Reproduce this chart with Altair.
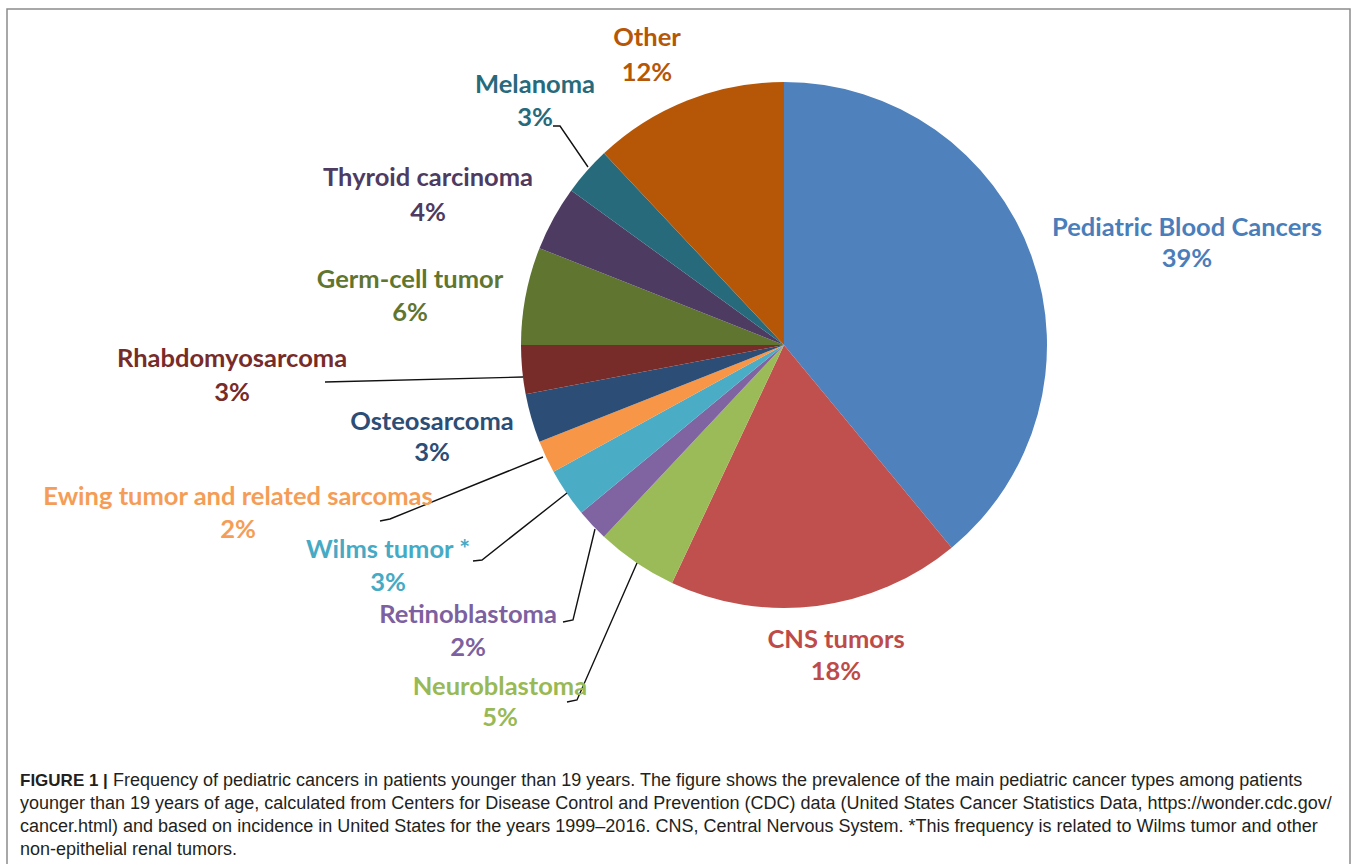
import altair as alt
import pandas as pd

# ---------------- data ----------------
categories = [
    "Pediatric Blood Cancers", "CNS tumors", "Neuroblastoma", "Retinoblastoma",
    "Wilms tumor *", "Ewing tumor and related sarcomas", "Osteosarcoma",
    "Rhabdomyosarcoma", "Germ-cell tumor", "Thyroid carcinoma", "Melanoma", "Other",
]
percent = [39, 18, 5, 2, 3, 2, 3, 3, 6, 4, 3, 12]

# ---------------- styles ----------------
slice_colors = [
    "#4F81BD", "#C0504D", "#9BBB59", "#8064A2", "#4BACC6", "#F79646",
    "#2C4D75", "#772C2A", "#5F7530", "#4D3B62", "#276A7C", "#B65708",
]
label_colors = [
    "#4A7EBB", "#BE4B48", "#98B954", "#7D60A0", "#46AAC5", "#F59D56",
    "#2C4D75", "#772C2A", "#5F7530", "#4D3B62", "#276A7C", "#B65708",
]

# ---------------- layout (pixel positions of labels) ----------------
label_x = [1187, 836, 500, 468, 388, 238, 432, 232, 410, 428, 535, 647]
name_y = [228, 640, 687, 615, 550, 497, 422, 359, 280, 178, 85, 38]
pct_y = [259, 672, 718, 648, 583, 530, 453, 393, 313, 213, 118, 73]

leader_points = {
    "Melanoma": [(553, 126), (560, 126), (588, 167)],
    "Rhabdomyosarcoma": [(325, 382), (523, 377)],
    "Ewing tumor and related sarcomas": [(380, 521), (390, 519), (543, 457)],
    "Wilms tumor *": [(473, 561), (482, 560), (567, 493)],
    "Retinoblastoma": [(563, 622), (573, 620), (595, 529)],
    "Neuroblastoma": [(567, 702), (577, 700), (637, 563)],
}

caption_bold = "FIGURE 1 |"
caption_lines = [
    "Frequency of pediatric cancers in patients younger than 19 years. The figure shows the prevalence of the main pediatric cancer types among patients",
    "younger than 19 years of age, calculated from Centers for Disease Control and Prevention (CDC) data (United States Cancer Statistics Data, https://wonder.cdc.gov/",
    "cancer.html) and based on incidence in United States for the years 1999\u20132016. CNS, Central Nervous System. *This frequency is related to Wilms tumor and other",
    "non-epithelial renal tumors.",
]
caption_x = [113, 20, 20, 20]
caption_y = [781, 804, 827, 850]

W, H = 1358, 864
CX, CY, R = 784, 345, 263
LABEL_FONT = "Lato"
LABEL_SIZE = 25.5

# ---------------- tables ----------------
pie_df = pd.DataFrame({
    "category": categories,
    "value": percent,
    "idx": list(range(len(categories))),
})

lab_df = pd.DataFrame({
    "category": categories,
    "pct": [f"{p}%" for p in percent],
    "x": label_x,
    "ny": name_y,
    "py": pct_y,
    "col": label_colors,
})

rows = []
for cat, pts in leader_points.items():
    for i, (px, py) in enumerate(pts):
        rows.append({"category": cat, "pt": i, "x": px, "y": py})
lead_df = pd.DataFrame(rows)

cap_df = pd.DataFrame({"text": caption_lines, "x": caption_x, "y": caption_y})
capb_df = pd.DataFrame({"text": [caption_bold], "x": [20], "y": [caption_y[0]]})

xs = alt.Scale(domain=[0, W], range=[0, W])
ys = alt.Scale(domain=[0, H], range=[0, H])

# ---------------- layers ----------------
border = alt.Chart(pd.DataFrame({"a": [0]})).mark_rect(
    fill=None, stroke="#8c8c8c", strokeWidth=1.5
).encode(
    x=alt.value(7), x2=alt.value(1350), y=alt.value(9), y2=alt.value(H + 20)
)

pie = alt.Chart(pie_df).mark_arc(radius=R, stroke=None).encode(
    theta=alt.Theta("value:Q", stack=True),
    order=alt.Order("idx:Q", sort="ascending"),
    color=alt.Color("category:N", scale=alt.Scale(domain=categories, range=slice_colors), legend=None),
    x=alt.value(CX),
    y=alt.value(CY),
)

leaders = alt.Chart(lead_df).mark_line(color="#111111", strokeWidth=1.4).encode(
    x=alt.X("x:Q", scale=xs, axis=None),
    y=alt.Y("y:Q", scale=ys, axis=None),
    detail="category:N",
    order="pt:Q",
)

names = alt.Chart(lab_df).mark_text(
    font=LABEL_FONT, fontSize=LABEL_SIZE, fontWeight="bold", align="center", baseline="middle"
).encode(
    x=alt.X("x:Q", scale=xs, axis=None),
    y=alt.Y("ny:Q", scale=ys, axis=None),
    text="category:N",
    color=alt.Color("col:N", scale=None),
)

pcts = alt.Chart(lab_df).mark_text(
    font=LABEL_FONT, fontSize=LABEL_SIZE, fontWeight="bold", align="center", baseline="middle"
).encode(
    x=alt.X("x:Q", scale=xs, axis=None),
    y=alt.Y("py:Q", scale=ys, axis=None),
    text="pct:N",
    color=alt.Color("col:N", scale=None),
)

cap = alt.Chart(cap_df).mark_text(
    font="Liberation Sans", fontSize=18, align="left", baseline="middle", color="#231f20"
).encode(
    x=alt.X("x:Q", scale=xs, axis=None),
    y=alt.Y("y:Q", scale=ys, axis=None),
    text="text:N",
)

capb = alt.Chart(capb_df).mark_text(
    font="Liberation Sans", fontSize=17, fontWeight="bold", align="left", baseline="middle", color="#231f20"
).encode(
    x=alt.X("x:Q", scale=xs, axis=None),
    y=alt.Y("y:Q", scale=ys, axis=None),
    text="text:N",
)

chart = alt.layer(border, pie, leaders, names, pcts, cap, capb).resolve_scale(
    color="independent"
).properties(
    width=W, height=H, padding=0, autosize=alt.AutoSizeParams(type="none"), background="white"
).configure_view(stroke=None)

chart.save("out.html", embed_options={"renderer": "svg", "actions": False})
